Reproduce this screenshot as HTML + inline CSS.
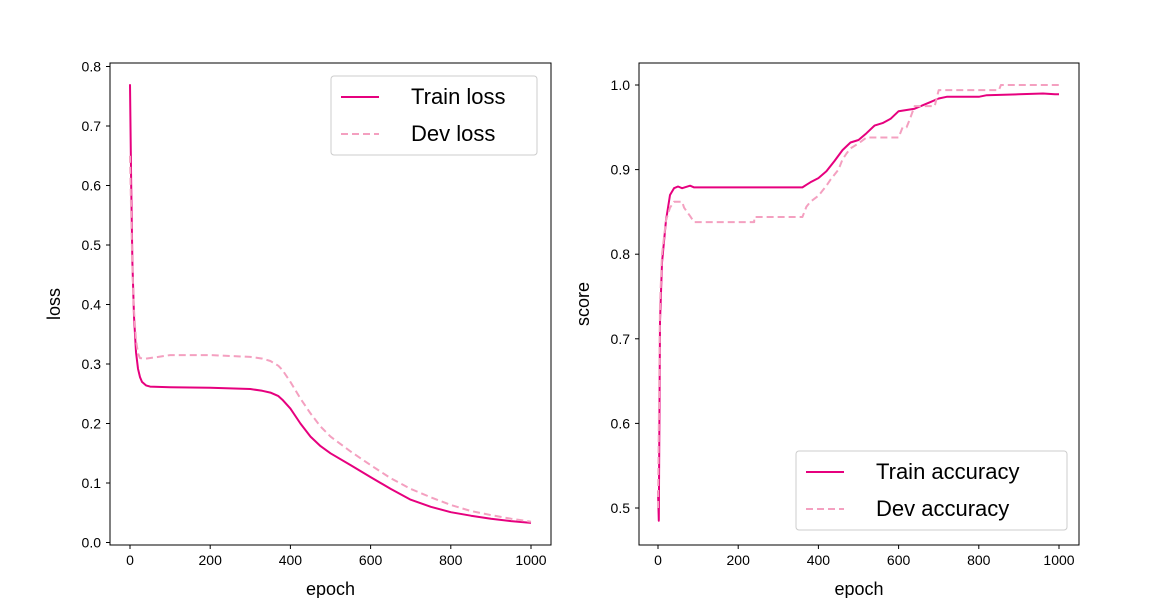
<!DOCTYPE html>
<html><head><meta charset="utf-8"><style>body{margin:0;background:#fff}svg{display:block;font-family:"Liberation Sans","DejaVu Sans",sans-serif}</style></head>
<body>
<svg id="c" width="1159" height="598"></svg>
<script>
const lossEpochs=[0,3,6,10,15,20,25,30,40,50,100,200,300,330,350,370,380,400,425,450,475,500,550,600,650,700,750,800,850,900,950,1000];
const trainLoss=[0.77,0.6,0.47,0.38,0.32,0.292,0.278,0.27,0.264,0.262,0.261,0.26,0.258,0.255,0.252,0.246,0.24,0.225,0.2,0.178,0.162,0.15,0.13,0.11,0.09,0.072,0.06,0.051,0.045,0.04,0.036,0.033];
const devLossEpochs=[0,3,6,10,15,20,25,40,60,100,200,300,330,350,370,380,400,425,450,475,500,550,600,650,700,750,800,850,900,950,1000];
const devLoss=[0.65,0.55,0.46,0.39,0.34,0.318,0.31,0.309,0.311,0.315,0.315,0.312,0.309,0.305,0.297,0.29,0.27,0.242,0.217,0.195,0.178,0.153,0.13,0.108,0.09,0.076,0.063,0.053,0.046,0.04,0.035];
const trainAccEpochs=[0,2,5,10,20,30,40,50,60,80,90,360,370,380,400,420,440,460,480,500,520,540,560,580,600,640,680,700,720,800,820,900,960,990,1000];
const trainAcc=[0.52,0.485,0.72,0.79,0.84,0.87,0.878,0.88,0.878,0.881,0.879,0.879,0.882,0.885,0.89,0.898,0.91,0.923,0.932,0.935,0.943,0.952,0.955,0.96,0.969,0.972,0.98,0.984,0.986,0.986,0.988,0.989,0.99,0.989,0.989];
const devAccEpochs=[0,5,10,20,30,40,60,65,80,90,240,240,360,365,370,380,400,410,420,430,450,460,470,480,500,520,600,610,620,630,640,690,700,850,855,1000];
const devAcc=[0.5,0.74,0.8,0.84,0.855,0.862,0.862,0.855,0.845,0.838,0.838,0.844,0.844,0.85,0.856,0.862,0.869,0.875,0.881,0.888,0.9,0.912,0.919,0.925,0.931,0.938,0.938,0.95,0.95,0.962,0.975,0.975,0.994,0.994,1.0,1.0];
const xTicks=[0,200,400,600,800,1000];
const lossTicks=[0,0.1,0.2,0.3,0.4,0.5,0.6,0.7,0.8];
const accTicks=[0.5,0.6,0.7,0.8,0.9,1.0];
const NS="http://www.w3.org/2000/svg",svg=document.getElementById('c');
function el(t,a,p){const e=document.createElementNS(NS,t);for(const k in a)e.setAttribute(k,a[k]);(p||svg).appendChild(e);return e;}
function panel(name,L,R,T,B,x0,xs,y0,ys,yTicks,yFmt,ylab,series,leg){
  const g=el('g',{});
  const X=v=>x0+v*xs,Y=v=>y0-v*ys;
  series.forEach(s=>{const p=el('path',{d:s.x.map((e,i)=>(i?'L':'M')+X(e).toFixed(1)+','+Y(s.y[i]).toFixed(1)).join(''),fill:'none',stroke:s.c,'stroke-width':2,'stroke-linejoin':'round','stroke-dasharray':s.d||'none'},g);
    });
  const ax=el('rect',{x:L,y:T,width:R-L,height:B-T,fill:'none',stroke:'#000','stroke-width':1},g);
  
  xTicks.forEach(t=>{el('line',{x1:X(t),x2:X(t),y1:B,y2:B+4,stroke:'#000'},g);
    const tx=el('text',{x:X(t),y:B+20,'font-size':14,'text-anchor':'middle'},g);tx.textContent=t;
    });
  yTicks.forEach(t=>{el('line',{x1:L-4,x2:L,y1:Y(t),y2:Y(t),stroke:'#000'},g);
    const tx=el('text',{x:L-9,y:Y(t)+5,'font-size':14,'text-anchor':'end'},g);tx.textContent=yFmt(t);
    });
  const xl=el('text',{x:(L+R)/2,y:595,'font-size':18,'text-anchor':'middle'},g);xl.textContent='epoch';
  
  const yl=el('text',{x:0,y:0,'font-size':18,'text-anchor':'middle',transform:`translate(${L-50},${(T+B)/2}) rotate(-90)`},g);yl.textContent=ylab;
  
  const lg=el('g',{},g);
  el('rect',{x:leg.x,y:leg.y,width:leg.w,height:79,rx:3,fill:'#fff',stroke:'#ccc'},lg);
  series.forEach((s,i)=>{const yy=leg.y+21+i*37;
    el('line',{x1:leg.x+10,x2:leg.x+48,y1:yy,y2:yy,stroke:s.c,'stroke-width':2,'stroke-dasharray':s.d||'none'},lg);
    const t=el('text',{x:leg.x+80,y:yy+7,'font-size':22},lg);t.textContent=s.label;
    });
}
const C1='#e6007e',C2='#f4a0c0';
panel('loss',110,551,63,545,130,0.401,542.5,595,lossTicks,v=>v.toFixed(1),'loss',
 [{x:lossEpochs,y:trainLoss,c:C1,n:'train-loss-line',label:'Train loss'},{x:devLossEpochs,y:devLoss,c:C2,d:'7,4',n:'dev-loss-line',label:'Dev loss'}],{x:331,y:76,w:206});
panel('accuracy',639,1079,63,545,658,0.401,85+846,846,accTicks,v=>v.toFixed(1),'score',
 [{x:trainAccEpochs,y:trainAcc,c:C1,n:'train-accuracy-line',label:'Train accuracy'},{x:devAccEpochs,y:devAcc,c:C2,d:'7,4',n:'dev-accuracy-line',label:'Dev accuracy'}],{x:796,y:451,w:271});
</script>
</body></html>
